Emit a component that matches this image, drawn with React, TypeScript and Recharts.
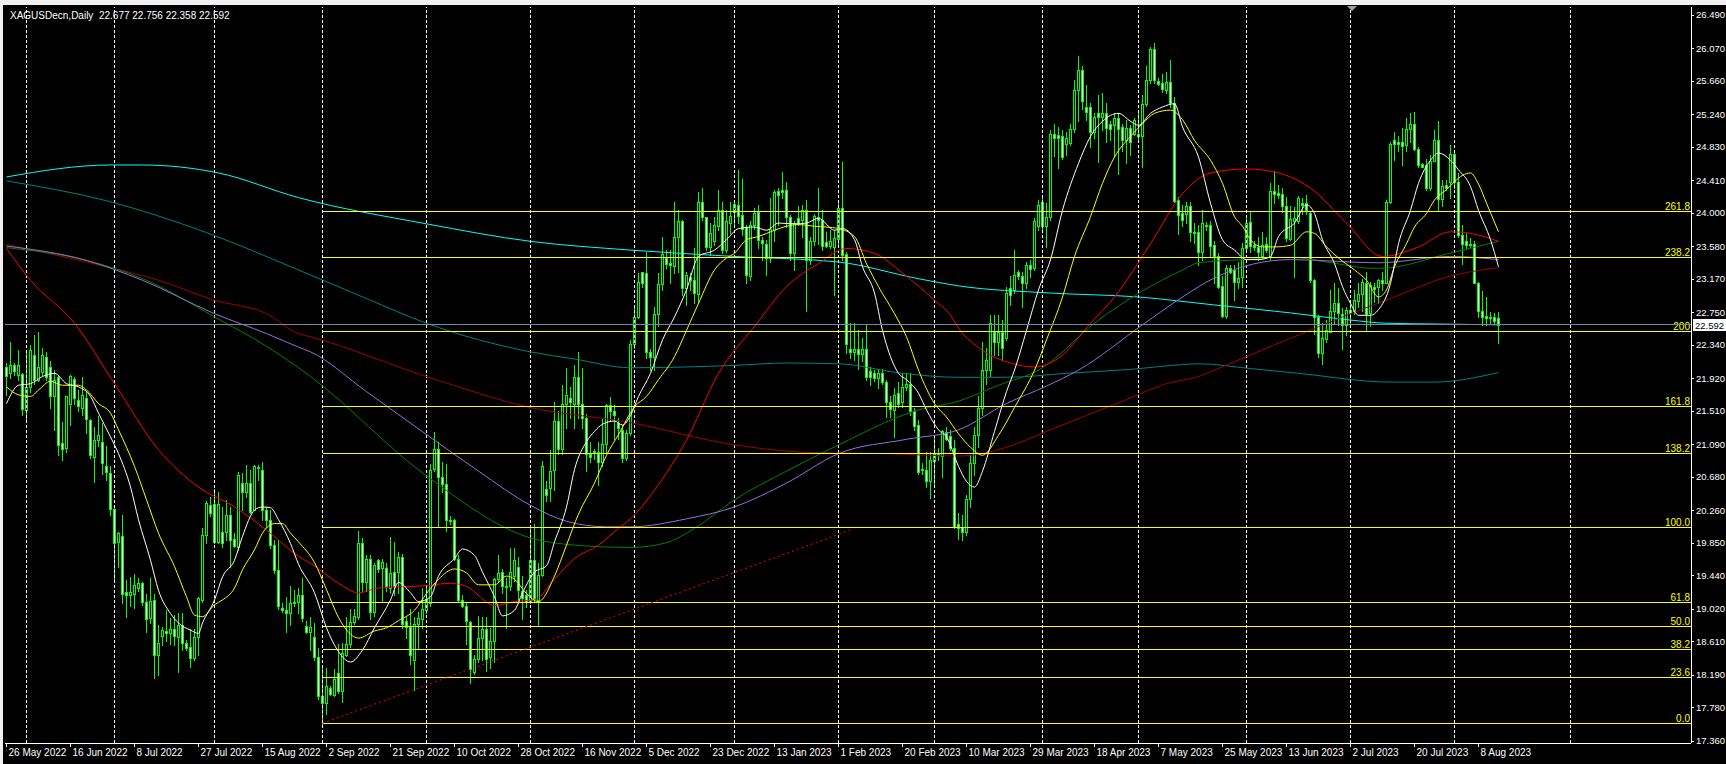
import React from "react";
import { ComposedChart, Bar, Line, XAxis, YAxis, ReferenceLine } from "recharts";

// XAGUSD daily, 26 May 2022 .. mid Aug 2023, one entry per bar
const opens = [
  22.06, 21.98, 22.09, 21.96, 21.97, 21.52, 21.81, 22.21, 21.90, 22.00,
  22.18, 22.06, 21.69, 21.94, 21.10, 21.04, 21.60, 21.91, 21.65, 21.54,
  21.67, 21.39, 20.93, 21.14, 21.12, 20.81, 20.73, 20.27, 19.86, 19.93,
  19.23, 19.19, 19.21, 19.28, 19.34, 19.11, 18.90, 19.13, 18.44, 18.68,
  18.74, 18.71, 18.76, 18.67, 18.82, 18.59, 18.54, 18.40, 18.67, 19.13,
  19.95, 20.32, 20.34, 19.86, 19.99, 19.99, 20.20, 19.90, 19.80, 20.60,
  20.49, 20.60, 20.26, 20.80, 20.77, 20.26, 20.14, 19.82, 19.51, 19.03,
  19.00, 18.96, 19.09, 19.11, 19.19, 18.80, 18.73, 18.67, 18.41, 17.92,
  17.83, 18.02, 17.94, 18.21, 17.98, 18.44, 18.57, 18.85, 18.91, 19.84,
  19.35, 19.65, 18.98, 19.63, 19.53, 19.53, 19.28, 19.48, 19.48, 19.67,
  18.86, 18.79, 18.38, 18.83, 18.89, 19.00, 19.09, 20.78, 21.03, 20.68,
  20.59, 20.14, 20.13, 19.65, 19.13, 19.06, 18.85, 18.22, 18.39, 18.65,
  18.76, 18.41, 18.61, 19.39, 19.48, 19.31, 19.31, 19.43, 19.55, 19.24,
  19.19, 19.11, 19.63, 19.13, 19.45, 20.52, 20.54, 20.77, 21.38, 21.03,
  21.60, 21.67, 21.60, 21.93, 21.60, 21.42, 20.97, 21.00, 20.99, 20.86,
  21.09, 21.58, 21.51, 21.36, 21.27, 20.91, 21.23, 22.35, 22.69, 23.25,
  23.24, 22.25, 22.18, 22.73, 23.10, 23.43, 23.37, 23.33, 23.69, 23.89,
  23.05, 23.19, 23.15, 22.98, 24.14, 23.95, 23.57, 23.64, 23.83, 24.03,
  23.53, 23.87, 24.01, 24.10, 23.97, 23.82, 23.20, 23.85, 24.01, 23.66,
  23.61, 23.43, 23.78, 24.27, 24.28, 24.29, 23.94, 23.49, 23.93, 23.91,
  24.03, 23.40, 23.64, 23.95, 23.91, 23.63, 23.58, 23.57, 23.67, 24.06,
  23.48, 22.28, 22.25, 22.28, 22.22, 22.28, 22.01, 21.99, 21.92, 21.99,
  21.87, 21.62, 21.52, 21.73, 21.62, 21.81, 21.85, 21.50, 21.33, 20.78,
  20.76, 20.62, 20.88, 20.97, 20.94, 21.24, 21.19, 21.04, 20.09, 20.05,
  19.98, 20.40, 20.85, 21.20, 21.55, 22.02, 22.02, 22.50, 22.38, 22.50,
  22.42, 23.05, 23.03, 23.26, 23.20, 23.11, 23.34, 23.30, 23.83, 24.13,
  23.83, 23.95, 24.99, 24.98, 24.96, 24.87, 24.88, 25.05, 25.54, 25.80,
  25.33, 25.33, 25.02, 25.25, 25.20, 25.25, 25.12, 25.10, 25.19, 25.08,
  24.92, 25.06, 24.99, 24.99, 24.97, 25.37, 25.67, 26.06, 25.66, 25.63,
  25.54, 25.64, 25.38, 24.16, 24.00, 23.99, 24.08, 23.76, 23.76, 23.50,
  23.85, 23.85, 23.59, 23.46, 23.08, 22.70, 23.30, 23.28, 23.13, 23.19,
  23.55, 23.88, 23.59, 23.57, 23.46, 23.61, 23.44, 24.27, 24.25, 24.24,
  24.08, 23.67, 23.90, 23.89, 24.12, 24.12, 24.00, 23.15, 22.69, 22.23,
  22.41, 22.50, 22.76, 22.86, 22.73, 22.59, 22.78, 22.77, 22.89, 22.98,
  23.12, 22.74, 23.06, 23.06, 23.15, 23.12, 24.14, 24.91, 24.89, 24.89,
  24.85, 25.05, 25.12, 24.80, 24.61, 24.60, 24.31, 24.65, 24.91, 24.17,
  24.35, 24.39, 24.74, 24.39, 23.72, 23.64, 23.61, 23.61, 23.12, 22.77,
  22.70, 22.69, 22.69, 22.677,
];

const highs = [
  22.11, 22.38, 22.11, 22.27, 21.98, 22.27, 22.34, 22.46, 22.50, 22.30,
  22.25, 22.13, 22.02, 21.96, 21.37, 21.69, 21.96, 21.94, 21.77, 21.94,
  21.75, 21.40, 21.31, 21.44, 21.35, 21.06, 20.81, 20.30, 19.99, 20.20,
  19.38, 19.42, 19.46, 19.40, 19.36, 19.21, 19.40, 19.21, 18.82, 18.79,
  19.00, 18.90, 18.94, 18.96, 18.96, 18.63, 18.77, 18.77, 19.17, 20.03,
  20.37, 20.43, 20.53, 20.49, 20.30, 20.39, 20.30, 19.97, 20.74, 20.73,
  20.83, 20.76, 20.83, 20.83, 20.87, 20.30, 20.26, 19.88, 19.88, 19.09,
  19.17, 19.30, 19.26, 19.28, 19.40, 18.86, 18.91, 18.84, 18.52, 18.28,
  18.28, 18.05, 18.26, 18.58, 18.59, 18.92, 19.02, 19.02, 20.00, 19.91,
  19.69, 19.69, 19.60, 19.65, 19.65, 19.60, 19.92, 19.86, 19.73, 19.71,
  18.91, 19.02, 18.91, 18.98, 19.28, 19.30, 20.84, 21.24, 21.12, 20.86,
  20.84, 20.19, 20.15, 19.69, 19.19, 19.09, 18.87, 18.44, 18.93, 18.91,
  18.91, 18.78, 19.41, 19.69, 19.52, 19.41, 19.78, 19.78, 19.67, 19.43,
  19.26, 20.04, 20.08, 19.60, 20.88, 20.62, 21.01, 21.62, 21.51, 21.83,
  22.05, 21.81, 22.09, 22.25, 22.05, 21.47, 21.12, 21.03, 21.12, 21.40,
  21.60, 21.68, 21.58, 21.42, 21.33, 21.27, 22.40, 22.80, 23.24, 23.26,
  23.51, 22.29, 22.82, 23.24, 23.69, 23.53, 23.53, 24.14, 24.04, 23.91,
  23.26, 23.24, 23.55, 24.26, 24.31, 23.95, 23.87, 23.95, 24.29, 24.14,
  24.03, 24.14, 24.14, 24.54, 24.43, 23.85, 23.89, 24.06, 24.10, 23.70,
  23.66, 24.18, 24.28, 24.31, 24.51, 24.38, 23.97, 23.89, 24.08, 24.10,
  24.16, 23.70, 23.99, 24.31, 24.03, 23.76, 23.78, 23.78, 24.14, 24.64,
  23.51, 22.61, 22.61, 22.52, 22.42, 22.59, 22.06, 22.02, 22.04, 22.03,
  21.90, 21.69, 21.79, 21.87, 21.98, 21.98, 21.98, 21.54, 21.39, 20.85,
  20.99, 20.99, 21.18, 21.04, 21.27, 21.31, 21.27, 21.14, 20.22, 20.20,
  20.45, 20.95, 21.30, 21.70, 22.38, 22.30, 22.71, 22.71, 22.71, 22.65,
  23.07, 23.20, 23.53, 23.28, 23.26, 23.38, 23.40, 23.93, 24.16, 24.18,
  24.12, 25.04, 25.12, 25.08, 25.04, 25.02, 25.12, 25.67, 25.97, 25.84,
  25.61, 25.38, 25.25, 25.48, 25.50, 25.38, 25.15, 25.25, 25.25, 25.12,
  25.17, 25.10, 25.19, 25.25, 25.48, 25.84, 26.08, 26.13, 25.69, 25.75,
  25.77, 25.92, 25.46, 24.20, 24.10, 24.14, 24.13, 23.87, 23.84, 24.03,
  23.88, 23.89, 23.64, 23.49, 23.20, 23.34, 23.34, 23.34, 23.38, 23.62,
  23.93, 24.01, 23.64, 23.70, 23.76, 23.70, 24.37, 24.52, 24.35, 24.31,
  24.20, 24.08, 24.07, 24.21, 24.18, 24.22, 24.02, 23.17, 22.71, 22.61,
  22.65, 23.03, 23.11, 23.05, 22.80, 22.82, 22.90, 23.03, 23.11, 23.17,
  23.26, 23.13, 23.11, 23.17, 23.26, 24.16, 24.89, 25.02, 24.96, 25.06,
  25.19, 25.25, 25.27, 24.83, 24.63, 24.68, 24.73, 25.04, 25.15, 24.41,
  24.41, 24.85, 24.77, 24.50, 23.85, 23.74, 23.68, 23.64, 23.13, 23.01,
  22.94, 22.75, 22.74, 22.756,
];

const lows = [
  21.71, 21.92, 21.96, 21.90, 21.46, 21.41, 21.75, 21.85, 21.88, 21.96,
  21.90, 21.54, 21.27, 20.95, 20.89, 20.99, 21.33, 21.60, 21.50, 21.46,
  21.23, 20.91, 20.61, 21.06, 20.72, 20.64, 20.20, 19.38, 19.55, 19.09,
  18.92, 19.05, 19.03, 19.24, 19.07, 18.73, 18.84, 18.15, 18.19, 18.56,
  18.61, 18.58, 18.56, 18.23, 18.50, 18.50, 18.29, 18.38, 18.44, 19.11,
  19.84, 20.18, 19.84, 19.84, 19.80, 19.88, 19.55, 19.80, 19.76, 20.26,
  20.43, 20.22, 20.26, 20.64, 20.14, 20.05, 19.78, 19.47, 19.02, 18.98,
  18.73, 18.82, 19.05, 18.96, 18.86, 18.72, 18.50, 18.37, 17.89, 17.57,
  17.70, 17.94, 17.92, 17.96, 17.85, 18.43, 18.54, 18.83, 18.89, 19.24,
  19.24, 18.89, 18.93, 19.48, 19.11, 19.24, 19.22, 19.19, 19.22, 18.78,
  18.65, 18.33, 18.00, 18.52, 18.78, 18.96, 19.06, 20.75, 20.06, 20.49,
  20.00, 20.08, 19.63, 19.11, 19.04, 18.57, 18.09, 18.20, 18.35, 18.37,
  18.24, 18.28, 18.35, 19.37, 19.22, 18.78, 19.26, 19.37, 19.13, 18.89,
  19.04, 19.09, 19.11, 18.82, 19.43, 20.38, 20.38, 20.51, 20.97, 20.97,
  21.29, 21.42, 21.29, 21.42, 21.29, 20.75, 20.86, 20.90, 20.58, 20.82,
  20.99, 21.38, 21.16, 21.16, 20.87, 20.89, 21.20, 22.30, 22.67, 23.07,
  22.17, 22.02, 22.02, 22.57, 23.03, 23.30, 23.11, 23.24, 23.26, 22.96,
  22.84, 23.03, 22.86, 22.86, 23.91, 23.53, 23.47, 23.59, 23.78, 23.49,
  23.51, 23.74, 23.85, 23.87, 23.72, 23.11, 23.15, 23.80, 23.55, 23.40,
  23.22, 23.38, 23.64, 23.85, 24.18, 23.82, 23.40, 23.28, 23.85, 23.70,
  22.76, 23.36, 23.59, 23.61, 23.53, 23.57, 23.55, 22.96, 23.57, 23.41,
  22.23, 22.17, 22.15, 22.04, 22.13, 21.90, 21.83, 21.88, 21.79, 21.85,
  21.43, 21.43, 21.18, 21.56, 21.56, 21.77, 21.46, 21.27, 20.72, 20.72,
  20.55, 20.41, 20.55, 20.89, 20.68, 21.14, 21.02, 20.03, 19.90, 19.88,
  19.95, 20.30, 20.70, 21.05, 21.45, 21.85, 21.95, 22.21, 22.21, 22.15,
  22.40, 22.84, 22.99, 23.17, 22.82, 23.05, 23.19, 23.28, 23.78, 23.78,
  23.57, 23.91, 24.71, 24.56, 24.68, 24.73, 24.85, 25.02, 25.15, 25.30,
  25.17, 24.83, 24.94, 24.64, 25.04, 24.89, 24.92, 24.71, 24.49, 24.77,
  24.62, 24.73, 24.98, 24.89, 24.58, 25.34, 25.63, 25.63, 25.61, 25.52,
  25.50, 25.33, 24.14, 23.73, 23.83, 23.87, 23.64, 23.62, 23.34, 23.41,
  23.78, 23.45, 23.11, 23.05, 22.69, 22.67, 23.24, 22.90, 23.05, 23.07,
  23.53, 23.51, 23.53, 23.41, 23.44, 23.51, 23.41, 24.12, 24.18, 24.01,
  23.64, 23.66, 23.19, 23.87, 23.99, 23.99, 23.13, 22.48, 22.19, 22.10,
  22.38, 22.50, 22.61, 22.59, 22.29, 22.46, 22.61, 22.73, 22.82, 22.76,
  22.53, 22.57, 22.88, 22.86, 23.03, 23.12, 24.12, 24.66, 24.77, 24.60,
  24.77, 24.89, 24.79, 24.58, 24.57, 24.29, 24.29, 24.65, 24.03, 24.08,
  24.29, 24.18, 24.31, 23.70, 23.36, 23.55, 23.57, 23.11, 22.69, 22.59,
  22.59, 22.61, 22.61, 22.358,
];

const closes = [
  21.95, 22.09, 22.01, 22.09, 21.53, 21.81, 22.27, 21.90, 22.06, 22.21,
  21.94, 21.69, 21.90, 21.08, 21.03, 21.69, 21.95, 21.67, 21.57, 21.71,
  21.41, 20.95, 21.14, 21.20, 20.85, 20.74, 20.27, 19.84, 19.97, 19.21,
  19.19, 19.23, 19.32, 19.34, 19.10, 18.89, 19.12, 18.44, 18.59, 18.75,
  18.71, 18.76, 18.68, 18.82, 18.59, 18.52, 18.40, 18.67, 19.15, 19.95,
  20.35, 20.22, 19.86, 20.34, 19.84, 20.20, 19.88, 19.81, 20.70, 20.49,
  20.60, 20.24, 20.81, 20.79, 20.26, 20.14, 19.82, 19.51, 19.05, 19.00,
  18.97, 19.09, 19.11, 19.19, 18.90, 18.73, 18.79, 18.41, 17.92, 17.83,
  18.05, 17.95, 18.14, 17.98, 18.46, 18.57, 18.85, 18.93, 19.84, 19.35,
  19.65, 18.98, 19.57, 19.52, 19.61, 19.30, 19.47, 19.30, 19.67, 18.83,
  18.79, 18.44, 18.83, 18.90, 19.02, 19.14, 20.77, 21.03, 20.68, 20.59,
  20.13, 20.12, 19.65, 19.13, 19.06, 18.87, 18.26, 18.39, 18.65, 18.76,
  18.39, 18.61, 19.39, 19.47, 19.30, 19.29, 19.48, 19.63, 19.26, 19.15,
  19.11, 19.63, 19.15, 19.45, 20.82, 20.45, 20.75, 21.38, 21.03, 21.60,
  21.71, 21.62, 21.93, 21.60, 21.42, 20.97, 20.93, 20.99, 20.86, 21.09,
  21.58, 21.51, 21.45, 21.29, 20.91, 21.23, 22.35, 22.69, 23.13, 23.11,
  22.25, 22.18, 22.73, 23.10, 23.48, 23.36, 23.34, 23.69, 23.89, 23.05,
  23.22, 23.15, 22.99, 24.14, 23.95, 23.57, 23.74, 23.85, 24.03, 23.53,
  23.89, 23.96, 24.11, 23.96, 23.80, 23.22, 23.85, 24.00, 23.66, 23.62,
  23.43, 23.80, 24.26, 24.22, 24.26, 23.95, 23.49, 23.87, 23.87, 24.03,
  23.40, 23.64, 23.96, 23.91, 23.58, 23.58, 23.64, 23.68, 24.06, 23.47,
  22.35, 22.25, 22.28, 22.22, 22.28, 21.93, 21.93, 21.92, 21.99, 21.87,
  21.62, 21.53, 21.71, 21.60, 21.81, 21.85, 21.50, 21.32, 20.74, 20.76,
  20.62, 20.89, 20.97, 20.95, 21.26, 21.16, 21.04, 20.05, 20.03, 19.98,
  20.40, 20.85, 21.20, 21.55, 22.02, 22.15, 22.61, 22.38, 22.50, 22.30,
  22.99, 22.97, 23.22, 23.20, 23.11, 23.34, 23.29, 23.89, 24.10, 23.83,
  23.95, 24.99, 24.94, 24.94, 24.70, 24.94, 25.05, 25.54, 25.80, 25.40,
  25.27, 25.01, 25.20, 25.20, 25.25, 25.07, 25.05, 25.19, 25.05, 24.92,
  25.06, 24.89, 25.17, 24.97, 25.37, 25.67, 26.06, 25.67, 25.62, 25.55,
  25.64, 25.38, 24.15, 23.97, 23.91, 24.08, 23.76, 23.74, 23.50, 23.87,
  23.83, 23.58, 23.46, 23.07, 22.70, 23.31, 23.26, 23.13, 23.18, 23.55,
  23.87, 23.58, 23.57, 23.51, 23.59, 23.53, 24.27, 24.24, 24.22, 24.08,
  23.68, 23.92, 23.93, 24.19, 24.10, 24.04, 23.15, 22.69, 22.23, 22.42,
  22.52, 22.77, 22.86, 22.74, 22.59, 22.78, 22.74, 22.90, 22.98, 23.13,
  22.73, 23.09, 23.04, 23.15, 23.11, 24.14, 24.87, 24.86, 24.87, 24.84,
  25.05, 25.12, 24.80, 24.60, 24.58, 24.31, 24.65, 24.91, 24.17, 24.33,
  24.31, 24.74, 24.39, 23.72, 23.61, 23.59, 23.59, 23.12, 22.76, 22.69,
  22.67, 22.67, 22.64, 22.592,
];

// bar index of each date label on the time axis
const dateTicks = [0, 16, 32, 48, 64, 80, 96, 112, 128, 144, 160, 176, 192, 208, 224, 240, 256, 272, 288, 304, 320, 336, 352, 368];
const dateLabels = [
  "26 May 2022", "16 Jun 2022", "8 Jul 2022", "27 Jul 2022", "15 Aug 2022", "2 Sep 2022",
  "21 Sep 2022", "10 Oct 2022", "28 Oct 2022", "16 Nov 2022", "5 Dec 2022", "23 Dec 2022",
  "13 Jan 2023", "1 Feb 2023", "20 Feb 2023", "10 Mar 2023", "29 Mar 2023", "18 Apr 2023",
  "7 May 2023", "25 May 2023", "13 Jun 2023", "2 Jul 2023", "20 Jul 2023", "8 Aug 2023",
];
// bar index of the first bar of each month (dashed grid)
const monthStarts = [5, 27, 52, 79, 105, 131, 157, 182, 208, 232, 259, 283, 310, 336, 362, 391];

const priceTicks = [
  17.36, 17.78, 18.19, 18.61, 19.02, 19.44, 19.85, 20.26, 20.68, 21.09, 21.51, 21.92,
  22.34, 22.75, 23.17, 23.58, 24.0, 24.41, 24.83, 25.24, 25.66, 26.07, 26.49,
];

// fibonacci expansion drawn from the Sep 2022 low
const fibNames = ["0.0", "23.6", "38.2", "50.0", "61.8", "100.0", "138.2", "161.8", "200", "238.2", "261.8"];
const fibPrices = [17.57, 18.152, 18.512, 18.8, 19.093, 20.035, 20.977, 21.559, 22.5, 23.44, 24.02];
const fibStartBar = 79;

const trendFrom = [79, 17.58];
const trendTo = [211, 20.01];
const bidPrice = 22.592;

// moving averages, sampled [bar, price]
const maWhite = [
  [0, 21.6], [3, 21.83], [6, 21.85], [9, 21.94], [12, 21.98], [15, 21.85], [18, 21.81], [21, 21.69], [23, 21.48], [26, 21.18],
  [28, 20.97], [31, 20.55], [33, 20.14], [36, 19.63], [38, 19.25], [41, 18.96], [43, 18.84], [46, 18.75], [48, 18.71], [49, 18.84],
  [52, 19.13], [54, 19.42], [57, 19.63], [59, 19.93], [62, 20.26], [64, 20.3], [66, 20.29], [68, 20.14], [71, 19.84], [73, 19.58],
  [77, 19.22], [80, 18.78], [83, 18.48], [86, 18.35], [89, 18.5], [92, 18.78], [96, 19.13], [98, 19.35], [101, 19.22], [103, 19.11],
  [106, 19.17], [108, 19.43], [112, 19.65], [114, 19.77], [117, 19.69], [119, 19.48], [122, 19.17], [124, 18.93], [127, 19.0], [129, 19.22],
  [132, 19.48], [135, 19.56], [137, 19.86], [140, 20.3], [142, 20.77], [145, 21.12], [147, 21.25], [149, 21.34], [152, 21.38], [154, 21.33],
  [156, 21.45], [158, 21.69], [161, 21.98], [164, 22.4], [167, 22.69], [170, 23.03], [173, 23.45], [177, 23.53], [180, 23.66], [183, 23.8],
  [187, 23.82], [190, 23.78], [193, 23.87], [197, 23.86], [200, 23.87], [203, 23.93], [207, 23.78], [209, 23.8], [212, 23.66], [214, 23.32],
  [217, 22.99], [219, 22.52], [221, 22.19], [223, 21.98], [225, 21.9], [228, 21.73], [230, 21.52], [233, 21.27], [235, 21.18], [238, 20.81],
  [240, 20.62], [242, 20.55], [244, 20.75], [247, 21.25], [250, 21.75], [252, 22.02], [255, 22.52], [258, 23.03], [261, 23.41], [264, 24.03],
  [268, 24.62], [271, 24.96], [274, 25.15], [278, 25.25], [281, 25.15], [283, 25.1], [286, 25.25], [289, 25.33], [292, 25.37], [294, 25.08],
  [298, 24.7], [301, 24.12], [304, 23.66], [307, 23.53], [310, 23.41], [313, 23.41], [316, 23.45], [318, 23.7], [322, 23.87], [325, 24.1],
  [327, 23.99], [329, 23.66], [332, 23.36], [334, 23.07], [336, 22.86], [338, 22.71], [341, 22.71], [343, 22.78], [346, 23.11], [348, 23.61],
  [351, 24.03], [353, 24.37], [356, 24.66], [358, 24.75], [361, 24.66], [363, 24.54], [366, 24.33], [368, 24.03], [371, 23.66], [373, 23.32],
];
const maYellow = [
  [0, 21.81], [3, 21.71], [6, 21.69], [8, 21.77], [11, 21.88], [14, 21.83], [18, 21.83], [20, 21.77], [23, 21.6], [26, 21.48],
  [28, 21.27], [32, 20.81], [35, 20.39], [38, 19.97], [42, 19.55], [45, 19.17], [47, 18.94], [49, 18.92], [52, 19.07], [54, 19.13],
  [57, 19.28], [59, 19.51], [62, 19.76], [64, 19.97], [67, 20.09], [69, 20.09], [71, 19.97], [73, 19.86], [77, 19.6], [80, 19.26],
  [83, 18.91], [86, 18.7], [88, 18.65], [92, 18.74], [95, 18.78], [98, 18.87], [102, 19.0], [105, 19.21], [108, 19.39], [112, 19.52],
  [115, 19.47], [118, 19.32], [122, 19.32], [125, 19.43], [127, 19.39], [130, 19.21], [133, 19.11], [137, 19.43], [140, 19.82], [143, 20.21],
  [147, 20.6], [150, 20.95], [153, 21.21], [157, 21.56], [160, 21.69], [163, 21.9], [167, 22.19], [170, 22.52], [173, 22.86], [177, 23.28],
  [180, 23.43], [182, 23.49], [185, 23.66], [188, 23.7], [192, 23.78], [195, 23.83], [198, 23.85], [202, 23.83], [205, 23.82], [208, 23.8],
  [212, 23.7], [215, 23.36], [218, 23.07], [222, 22.73], [225, 22.44], [228, 22.02], [232, 21.6], [235, 21.43], [238, 21.22], [241, 21.05],
  [244, 20.95], [248, 21.2], [252, 21.55], [257, 22.02], [260, 22.4], [264, 22.94], [267, 23.45], [271, 23.95], [274, 24.37], [277, 24.7],
  [281, 24.96], [284, 25.12], [287, 25.25], [291, 25.29], [294, 25.17], [297, 24.91], [301, 24.66], [304, 24.37], [307, 23.95], [309, 23.83],
  [311, 23.66], [314, 23.57], [317, 23.57], [321, 23.59], [325, 23.76], [327, 23.74], [330, 23.57], [333, 23.43], [337, 23.28], [340, 23.15],
  [343, 22.94], [345, 23.03], [347, 23.32], [350, 23.61], [352, 23.82], [355, 23.99], [357, 24.16], [360, 24.29], [362, 24.39], [364, 24.47],
  [366, 24.5], [368, 24.36], [370, 24.12], [373, 23.76],
];
const maRed = [
  [0, 23.55], [6, 23.15], [17, 22.61], [27, 21.85], [38, 21.02], [48, 20.55], [57, 20.3], [65, 20.01], [73, 19.68], [76, 19.59],
  [83, 19.34], [88, 19.22], [93, 19.28], [105, 19.31], [111, 19.34], [115, 19.3], [122, 19.06], [127, 19.11], [132, 19.13], [137, 19.39],
  [142, 19.65], [148, 19.82], [153, 20.03], [156, 20.15], [162, 20.51], [170, 21.14], [178, 21.98], [187, 22.57], [195, 23.07], [203, 23.36],
  [210, 23.55], [217, 23.49], [224, 23.24], [232, 22.9], [236, 22.71], [238, 22.55], [244, 22.27], [251, 22.11], [257, 22.06], [263, 22.17],
  [271, 22.61], [277, 22.94], [286, 23.61], [294, 24.24], [301, 24.5], [310, 24.55], [318, 24.5], [321, 24.45], [326, 24.31], [335, 23.87],
  [344, 23.45], [353, 23.57], [361, 23.76], [366, 23.74], [373, 23.64],
];
const maGreen = [
  [0, 23.56], [20, 23.4], [35, 23.15], [52, 22.69], [65, 22.32], [73, 22.05], [76, 21.94], [105, 20.69], [131, 19.91], [142, 19.82],
  [156, 19.79], [165, 19.85], [172, 20.03], [182, 20.39], [195, 20.75], [208, 21.08], [228, 21.52], [238, 21.63], [248, 21.83], [258, 22.02],
  [273, 22.65], [294, 23.28], [298, 23.37], [309, 23.41], [321, 23.44], [330, 23.38], [342, 23.3], [346, 23.31], [360, 23.48], [373, 23.64],
];
const maPurple = [
  [0, 23.58], [20, 23.4], [34, 23.15], [52, 22.73], [65, 22.48], [73, 22.31], [76, 22.25], [90, 21.75], [105, 21.21], [118, 20.75],
  [131, 20.32], [140, 20.12], [150, 20.05], [156, 20.05], [170, 20.15], [182, 20.3], [195, 20.6], [208, 20.97], [225, 21.15], [238, 21.27],
  [250, 21.6], [260, 21.82], [268, 22.02], [284, 22.59], [294, 22.94], [302, 23.18], [321, 23.41], [343, 23.37], [361, 23.45], [373, 23.41],
];
const maMaroon = [
  [0, 23.6], [20, 23.38], [38, 23.15], [52, 22.9], [65, 22.73], [73, 22.48], [76, 22.44], [105, 21.94], [131, 21.55], [156, 21.36],
  [182, 21.08], [203, 20.98], [220, 20.97], [238, 20.94], [250, 21.05], [260, 21.25], [270, 21.45], [280, 21.65], [290, 21.85], [298, 21.94],
  [302, 22.02], [318, 22.36], [321, 22.42], [335, 22.71], [346, 22.92], [360, 23.19], [373, 23.31],
];
const maCyan = [
  [0, 24.45], [26, 24.6], [34, 24.6], [53, 24.5], [73, 24.19], [105, 23.86], [131, 23.64], [156, 23.53], [182, 23.45], [208, 23.38],
  [228, 23.17], [238, 23.08], [261, 22.99], [283, 22.94], [302, 22.84], [321, 22.74], [336, 22.65], [345, 22.61], [358, 22.6], [373, 22.59],
];
const maTeal = [
  [0, 24.4], [25, 24.15], [50, 23.75], [73, 23.28], [90, 22.92], [105, 22.61], [131, 22.25], [142, 22.16], [156, 22.05], [182, 22.08],
  [195, 22.11], [208, 22.1], [224, 21.98], [238, 21.93], [250, 21.93], [265, 21.98], [281, 22.03], [294, 22.09], [298, 22.1], [311, 22.04],
  [323, 21.98], [346, 21.87], [357, 21.87], [373, 21.99],
];

const W = 1726;
const H = 764;
const X_MIN = -0.375;
const X_MAX = 421.125;
const Y_MIN = 17.331;
const Y_MAX = 26.587;
const FONT = '"Liberation Sans", Arial, sans-serif';
const LIME = "#00ff00";

const candles = closes.map((c, i) => ({
  x: i,
  range: [lows[i], highs[i]],
  o: opens[i],
  h: highs[i],
  l: lows[i],
  c,
}));

const toPts = (arr: number[][]) => arr.map(([x, v]) => ({ x, v }));

const maSeries = [
  { name: "teal", data: maTeal, color: "#008080" },
  { name: "cyan", data: maCyan, color: "#00ffff" },
  { name: "maroon", data: maMaroon, color: "#a00000" },
  { name: "green", data: maGreen, color: "#008000" },
  { name: "purple", data: maPurple, color: "#9370db" },
  { name: "red", data: maRed, color: "#ff0000" },
  { name: "yellow", data: maYellow, color: "#ffff00" },
  { name: "white", data: maWhite, color: "#ffffff" },
];

function Candle(props: any) {
  const { x, y, width, height, payload } = props;
  if (!payload || height == null || isNaN(y)) return null;
  const cx = Math.floor(x + width / 2) + 0.5;
  const { o, h, l, c } = payload;
  const span = h - l || 1e-6;
  const py = (v: number) => y + ((h - v) / span) * height;
  const top = Math.round(py(Math.max(o, c)));
  const bot = Math.round(py(Math.min(o, c)));
  const bear = c < o;
  return (
    <g shapeRendering="crispEdges">
      <line x1={cx} x2={cx} y1={Math.round(y)} y2={Math.round(y + height) + 1} stroke={LIME} strokeWidth={1} />
      {bot - top >= 1 ? (
        <rect x={cx - 1} y={top + 0.5} width={2} height={bot - top} fill={bear ? "#ffffff" : "#000000"} stroke={LIME} strokeWidth={1} />
      ) : (
        <line x1={cx - 1.5} x2={cx + 1.5} y1={top + 0.5} y2={top + 0.5} stroke={LIME} strokeWidth={1} />
      )}
    </g>
  );
}

// horizontal reference line snapped to a whole pixel row
function CrispHLine(props: any) {
  const { x1, x2, y1, stroke } = props;
  if (x1 == null || y1 == null) return null;
  const yy = Math.floor(y1) + 0.5;
  return <line x1={x1} x2={x2} y1={yy} y2={yy} stroke={stroke} strokeWidth={1} shapeRendering="crispEdges" />;
}

function DateTick(props: any) {
  const { x, y, payload } = props;
  const idx = dateTicks.indexOf(payload.value);
  const px = Math.floor(x) + 0.5;
  return (
    <g>
      <line x1={px} x2={px} y1={y} y2={y + 4} stroke="#fff" shapeRendering="crispEdges" />
      <text x={px + 2} y={y + 13} fill="#fff" fontSize={10} fontFamily={FONT}>
        {dateLabels[idx]}
      </text>
    </g>
  );
}

function PriceTick(props: any) {
  const { x, y, payload } = props;
  const py = Math.round(y) + 0.5;
  return (
    <g>
      <line x1={x} x2={x + 3} y1={py} y2={py} stroke="#fff" shapeRendering="crispEdges" />
      <text x={x + 5} y={y + 3.5} fill="#fff" fontSize={9.5} fontFamily={FONT}>
        {Number(payload.value).toFixed(3)}
      </text>
    </g>
  );
}

function FibLabel(props: any) {
  const vb = props.viewBox || {};
  return (
    <text x={vb.x + vb.width - 1} y={Math.floor(vb.y) - 1} textAnchor="end" fill="#ffff00" fontSize={10} fontFamily={FONT}>
      {props.text}
    </text>
  );
}

function BidLabel(props: any) {
  const vb = props.viewBox || {};
  const right = vb.x + vb.width;
  const yy = Math.round(vb.y);
  return (
    <g>
      <rect x={right + 2} y={yy - 6} width={W - right - 2} height={12} fill="#ffffff" />
      <text x={right + 4} y={yy + 4} fill="#000" fontSize={9.5} fontFamily={FONT}>
        {bidPrice.toFixed(3)}
      </text>
    </g>
  );
}

export default function App() {
  return (
    <div style={{ position: "absolute", left: 0, top: 0, width: W, height: H, background: "#000", overflow: "hidden" }}>
      <div style={{ position: "absolute", left: 0, top: 0, width: W, height: 5, background: "#f0f0f0" }} />
      <div style={{ position: "absolute", left: 0, top: 0, width: 3, height: H, background: "#f0f0f0" }} />
      <ComposedChart width={W} height={H} data={candles} margin={{ top: 7, right: 0, bottom: 0, left: 5 }}>
        <XAxis
          dataKey="x"
          type="number"
          domain={[X_MIN, X_MAX]}
          allowDataOverflow
          ticks={dateTicks}
          interval={0}
          height={21}
          tickLine={false}
          tickSize={0}
          tickMargin={0}
          axisLine={{ stroke: "#fff", shapeRendering: "crispEdges" }}
          tick={<DateTick />}
        />
        <YAxis
          orientation="right"
          type="number"
          domain={[Y_MIN, Y_MAX]}
          allowDataOverflow
          ticks={priceTicks}
          interval={0}
          width={35}
          tickLine={false}
          tickSize={0}
          tickMargin={0}
          axisLine={{ stroke: "#fff", shapeRendering: "crispEdges" }}
          tick={<PriceTick />}
        />
        {monthStarts.map((m) => (
          <ReferenceLine key={"m" + m} x={m} stroke="#ffffff" strokeDasharray="3 2" shapeRendering="crispEdges" />
        ))}
        <Bar dataKey="range" barSize={3} shape={<Candle />} isAnimationActive={false} />
        {maSeries.map((s) => (
          <Line
            key={s.name}
            data={toPts(s.data)}
            dataKey="v"
            type="monotone"
            stroke={s.color}
            strokeWidth={1}
            dot={false}
            activeDot={false}
            isAnimationActive={false}
          />
        ))}
        {fibPrices.map((p, i) => (
          <ReferenceLine
            key={fibNames[i]}
            segment={[{ x: fibStartBar, y: p }, { x: X_MAX, y: p }]}
            stroke="#ffff00"
            shape={(sp: any) => <CrispHLine {...sp} stroke="#ffff00" />}
            label={<FibLabel text={fibNames[i]} />}
          />
        ))}
        <ReferenceLine
          segment={[{ x: trendFrom[0], y: trendFrom[1] }, { x: trendTo[0], y: trendTo[1] }]}
          stroke="#ff0000"
          strokeDasharray="2 3"
        />
        <ReferenceLine
          y={bidPrice}
          stroke="#778899"
          shape={(sp: any) => <CrispHLine {...sp} stroke="#778899" />}
          label={<BidLabel />}
        />
      </ComposedChart>
      <div
        style={{
          position: "absolute",
          left: 10,
          top: 10,
          color: "#fff",
          fontSize: 10,
          fontFamily: FONT,
          whiteSpace: "pre",
        }}
      >
        {"XAGUSDecn,Daily  22.677 22.756 22.358 22.592"}
      </div>
      <svg style={{ position: "absolute", left: 0, top: 0 }} width={W} height={20}>
        <polygon points="1347,6 1357,6 1352,11" fill="#a0a0a0" />
      </svg>
    </div>
  );
}
